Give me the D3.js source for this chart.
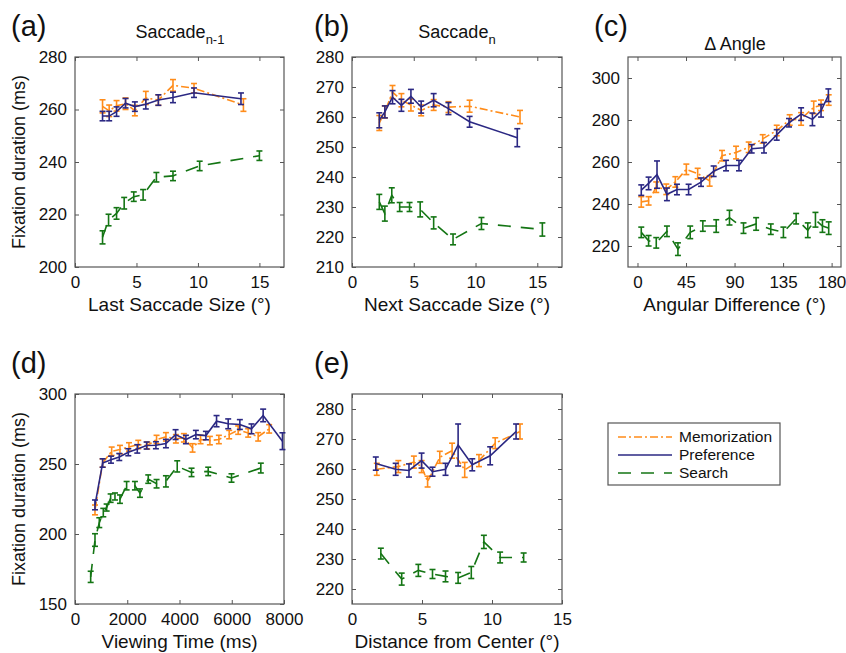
<!DOCTYPE html>
<html><head><meta charset="utf-8">
<script src="https://cdn.jsdelivr.net/npm/d3@7"></script>
<style>body{margin:0;background:#fff;} svg{display:block;font-family:"Liberation Sans",Arial,sans-serif;}</style>
</head><body>
<svg id="chart" width="846" height="653"></svg>
<script>
// ---- Panel (a): Saccade n-1 ----
const aMemX = [2.24,2.78,3.38,4.11,4.87,5.76,6.78,7.97,9.68,13.7];
const aMemY = [261.2,259.5,261.4,262.2,259.6,264.4,263.6,269.2,268.1,261.7];
const aMemE = [2.5,2.2,2,2.2,2,2.5,2,2.2,1.8,2.4];
const aPrefX = [2.24,2.78,3.38,4.11,4.87,5.76,6.78,7.97,9.68,13.5];
const aPrefY = [257.5,257.5,259.2,262.4,261.1,262,263.6,264.6,266.4,264.1];
const aPrefE = [1.8,1.8,1.8,1.8,1.8,1.8,2,2,1.8,2.2];
const aSrchX = [2.24,2.73,3.38,4.0,4.78,5.54,6.62,7.97,10.14,15.0];
const aSrchY = [211.3,217.9,220.4,224.3,226.8,227.5,234.2,234.7,238.5,242.4];
const aSrchE = [2.5,2.2,2.2,2.2,1.8,2,1.8,1.8,1.8,1.8];
// ---- Panel (b): Saccade n ----
const bMemX = [2.21,2.66,3.28,4.0,4.77,5.6,6.61,7.81,9.52,13.6];
const bMemY = [258,261.7,268.3,265.6,264,262.2,264,263.3,263.6,260];
const bMemE = [2.5,2,2.2,2.2,2,1.8,1.8,1.8,2,2.2];
const bPrefX = [2.21,2.66,3.28,4.0,4.77,5.6,6.61,7.81,9.52,13.38];
const bPrefY = [258.9,261.7,266.6,263.9,266.9,263.3,265.6,262.8,258.4,253.1];
const bPrefE = [2.5,2,2.2,2,2.3,2,2.2,2,1.8,3];
const bSrchX = [2.21,2.66,3.22,3.86,4.66,5.52,6.61,8.18,10.48,15.41];
const bSrchY = [231.7,227.8,233.9,230,230,229.2,224.7,219.2,224.5,222.5];
const bSrchE = [2.5,2.5,2.5,1.5,1.5,2.5,2,1.8,2,2.2];
// ---- Panel (c): Delta Angle ----
const cMemX = [3.5,10.3,17.4,26.7,35.1,45.3,55.8,66.9,78.4,91.4,103.1,116.1,129.1,141.1,151.7,163.4,170.2,177.3];
const cMemY = [241,241.5,248,247,250.5,256.5,254.5,251,263,264.5,267,271,275,280,280.5,286,287,289.5];
const cMemE = [2.5,2,2.5,2.5,2.5,2.5,2.5,2.5,2.5,3,2.5,2,2.5,2.5,3,3,2.5,2.5];
const cPrefX = [3.5,10.3,18.1,27.3,36.6,47.4,58.9,70.6,82.1,94.1,105.9,117.3,129.1,140.5,151.7,162.2,170.2,177];
const cPrefY = [246.6,249.8,254,244.6,246.9,246.9,250.4,255.6,258.3,258.3,266.3,266.8,272.9,278.7,282.8,280.3,284.4,291.8];
const cPrefE = [2.5,3,6.5,3,2.5,2.5,2,2.5,2.5,2.5,2,2.5,2.5,2,3,3,3,3];
const cSrchX = [3.5,10.3,17.4,27.3,37.5,48.9,60.6,73,85.3,98.3,110,123.6,135.3,147.1,157.9,165,171.5,177.3];
const cSrchY = [226.5,222.5,221.5,227,218.5,226.5,229.5,229.5,233.5,228.5,230.5,228,226.5,233,227.5,232.5,229.5,228.5];
const cSrchE = [2.5,2.5,2.5,2.5,3,3,2.5,3,3.5,2.5,3,2.5,2.5,2.5,3.5,3.5,3,3];
// ---- Panel (d): Viewing time ----
const dMemX = [765,1058,1404,1721,2066,2422,2766,3122,3480,3862,4168,4500,4806,5163,5507,5902,6246,6629,7011,7432];
const dMemY = [217.2,250.7,259.1,260.3,262.2,263.9,263.2,267.5,269.4,268,268.7,261.5,267.5,266.7,267.5,271,274.2,272.2,269.4,275.1];
const dMemE = [3.5,3,3,3,3,3,2.5,3,3,3,3,3,3,3,3,3,3,3,3,3];
const dPrefX = [765,1058,1377,1695,2040,2384,2741,3097,3480,3850,4245,4627,5010,5418,5864,6310,6756,7202,7941];
const dPrefY = [220.8,250.7,253.1,255,258.4,260.8,263.2,263.4,264.6,271,267.5,271,270.3,280.6,278.7,278.2,275.1,284.7,266.3];
const dPrefE = [3.5,3,2.5,2.5,2.5,3,2.5,2.5,3,3.5,3,3,3,4,3.5,3.5,3.5,4.5,6];
const dSrchX = [600,765,930,1083,1211,1364,1530,1721,1976,2294,2486,2804,3122,3480,3913,4461,5099,5991,7113];
const dSrchY = [169.4,195.7,208.1,215.3,218.9,225.6,226.8,224.9,234.5,234.5,229.2,239.2,235.9,237.6,248.3,244,244.7,240,247.1];
const dSrchE = [4,4.5,3.5,3,2.5,3,2.5,3,3,3,3,3,3,4,4,3,3,3,3.5];
// ---- Panel (e): Distance from center ----
const eMemX = [1.77,3.31,4.42,4.97,5.40,6.27,7.15,8.05,9.07,10.23,12.0];
const eMemY = [259.9,260.8,262.3,260.8,255.8,263.9,266.1,259.7,262.8,268.6,272.5];
const eMemE = [2,2,2,2,1.8,2,2.5,2.5,2,1.8,2.5];
const ePrefX = [1.70,3.12,4.07,4.97,5.75,6.68,7.58,8.59,9.87,11.72];
const ePrefY = [261.8,259.9,259.5,262.8,259.1,259.9,268,261.4,264.4,272.5];
const ePrefE = [2.2,2,2.2,2.5,1.5,2,7,2,3,2.5];
const eSrchX = [2.06,3.55,4.74,5.75,6.68,7.58,8.52,9.42,10.58,12.26];
const eSrchY = [231.8,223.3,226.2,225,224.2,223.7,225.5,235.7,230.5,230.5];
const eSrchE = [1.8,2,2,1.5,1.8,1.8,2,2.2,1.8,1.5];

// ---- tick labels ----
const aXTicks = [0,5,10,15], aYTicks = [200,220,240,260,280];
const bXTicks = [0,5,10,15], bYTicks = [210,220,230,240,250,260,270,280];
const cXTicks = [0,45,90,135,180], cYTicks = [220,240,260,280,300];
const dXTicks = [0,2000,4000,6000,8000], dYTicks = [150,200,250,300];
const eXTicks = [0,5,10,15], eYTicks = [220,230,240,250,260,270,280];

const seriesNames = ["Memorization","Preference","Search"];
const colors = {Memorization:"#ff8c1a", Preference:"#2b2883", Search:"#147514"};
const dashes = {Memorization:"8,3,2,3", Preference:null, Search:"13,10"};

const svg = d3.select("#chart");
const FONT = "Liberation Sans, Arial, sans-serif";

function zip(xs, ys, es){ return xs.map((x,i)=>({x:x, y:ys[i], e:es[i]})); }

function panel(cfg){
  const x = d3.scaleLinear().domain(cfg.xd).range(cfg.xr);
  const y = d3.scaleLinear().domain(cfg.yd).range(cfg.yr);
  const g = svg.append("g");
  const [x0,x1] = cfg.xr, [y1,y0] = cfg.yr;
  const tl = 4;
  g.append("g").attr("transform",`translate(0,${y1})`)
    .call(d3.axisBottom(x).tickValues(cfg.xt).tickSizeInner(-tl).tickSizeOuter(0).tickPadding(9).tickFormat(d3.format("d")))
    .call(s=>{s.select(".domain").remove(); s.selectAll("text").attr("font-size",17).attr("font-family",FONT).attr("fill","#111");});
  g.append("g").attr("transform",`translate(0,${y0})`)
    .call(d3.axisTop(x).tickValues(cfg.xt).tickSizeInner(-tl).tickSizeOuter(0).tickFormat(""))
    .call(s=>s.select(".domain").remove());
  g.append("g").attr("transform",`translate(${x0},0)`)
    .call(d3.axisLeft(y).tickValues(cfg.yt).tickSizeInner(-tl).tickSizeOuter(0).tickPadding(8).tickFormat(d3.format("d")))
    .call(s=>{s.select(".domain").remove(); s.selectAll("text").attr("font-size",17).attr("font-family",FONT).attr("fill","#111");});
  g.append("g").attr("transform",`translate(${x1},0)`)
    .call(d3.axisRight(y).tickValues(cfg.yt).tickSizeInner(-tl).tickSizeOuter(0).tickFormat(""))
    .call(s=>s.select(".domain").remove());
  g.selectAll(".tick line").attr("stroke","#555");
  g.append("rect").attr("x",x0).attr("y",y0).attr("width",x1-x0).attr("height",y1-y0)
    .attr("fill","none").attr("stroke","#555").attr("stroke-width",1.2);

  const line = d3.line().x(d=>x(d.x)).y(d=>y(d.y));
  const order = ["Search","Memorization","Preference"];
  order.forEach(name=>{
    const data = cfg.series[name];
    const col = colors[name];
    g.append("path").datum(data).attr("d",line).attr("fill","none")
      .attr("stroke",col).attr("stroke-width",1.6)
      .attr("stroke-dasharray",dashes[name]);
    const eb = g.append("g").attr("stroke",col).attr("stroke-width",1.6).attr("fill","none");
    data.forEach(d=>{
      const px = x(d.x), ya = y(d.y+d.e), yb = y(d.y-d.e);
      eb.append("line").attr("x1",px).attr("x2",px).attr("y1",ya).attr("y2",yb);
      eb.append("line").attr("x1",px-3).attr("x2",px+3).attr("y1",ya).attr("y2",ya);
      eb.append("line").attr("x1",px-3).attr("x2",px+3).attr("y1",yb).attr("y2",yb);
    });
  });
  svg.append("text").attr("x",(x0+x1)/2).attr("y",y1+44).attr("text-anchor","middle")
    .attr("font-size",19).attr("font-family",FONT).attr("fill","#111").text(cfg.xlabel);
  svg.append("text").attr("x",cfg.letterX).attr("y",y0-21).attr("font-size",29)
    .attr("font-family",FONT).attr("fill","#111").text(cfg.letter);
  return {x,y};
}

panel({xd:[0,17], yd:[200,280], xr:[75,284], yr:[267,57], xt:aXTicks, yt:aYTicks,
  xlabel:"Last Saccade Size (°)", letter:"(a)", letterX:11,
  series:{Memorization:zip(aMemX,aMemY,aMemE), Preference:zip(aPrefX,aPrefY,aPrefE), Search:zip(aSrchX,aSrchY,aSrchE)}});
panel({xd:[0,17], yd:[210,280], xr:[352,562], yr:[267,57], xt:bXTicks, yt:bYTicks,
  xlabel:"Next Saccade Size (°)", letter:"(b)", letterX:314,
  series:{Memorization:zip(bMemX,bMemY,bMemE), Preference:zip(bPrefX,bPrefY,bPrefE), Search:zip(bSrchX,bSrchY,bSrchE)}});
panel({xd:[-8.8,188.7], yd:[210,310], xr:[628,841], yr:[267,57], xt:cXTicks, yt:cYTicks,
  xlabel:"Angular Difference (°)", letter:"(c)", letterX:594,
  series:{Memorization:zip(cMemX,cMemY,cMemE), Preference:zip(cPrefX,cPrefY,cPrefE), Search:zip(cSrchX,cSrchY,cSrchE)}});
panel({xd:[0,8000], yd:[150,300], xr:[75,284], yr:[604,394], xt:dXTicks, yt:dYTicks,
  xlabel:"Viewing Time (ms)", letter:"(d)", letterX:11,
  series:{Memorization:zip(dMemX,dMemY,dMemE), Preference:zip(dPrefX,dPrefY,dPrefE), Search:zip(dSrchX,dSrchY,dSrchE)}});
panel({xd:[0,15], yd:[215,285], xr:[352,562], yr:[604,394], xt:eXTicks, yt:eYTicks,
  xlabel:"Distance from Center (°)", letter:"(e)", letterX:314,
  series:{Memorization:zip(eMemX,eMemY,eMemE), Preference:zip(ePrefX,ePrefY,ePrefE), Search:zip(eSrchX,eSrchY,eSrchE)}});

function title(cx, yb, main, sub){
  const t = svg.append("text").attr("x",cx).attr("y",yb).attr("text-anchor","middle")
    .attr("font-size",18).attr("font-family",FONT).attr("fill","#111");
  t.append("tspan").text(main);
  if(sub) t.append("tspan").attr("font-size",13).attr("dy",6).text(sub);
}
title(180, 38, "Saccade", "n-1");
title(457, 38, "Saccade", "n");
title(735, 50, "\u0394\u2009Angle", null);

[[162,"Fixation duration (ms)"],[499,"Fixation duration (ms)"]].forEach(([cy,t])=>{
  svg.append("text").attr("transform",`translate(25,${cy}) rotate(-90)`).attr("text-anchor","middle")
    .attr("font-size",18).attr("font-family",FONT).attr("fill","#111").text(t);
});

const lg = svg.append("g").attr("transform","translate(608,423)");
lg.append("rect").attr("width",172).attr("height",62).attr("fill","#fff").attr("stroke","#555").attr("stroke-width",1.2);
seriesNames.forEach((n,i)=>{
  const yy = 14 + i*18;
  lg.append("line").attr("x1",10).attr("x2",64).attr("y1",yy).attr("y2",yy)
    .attr("stroke",colors[n]).attr("stroke-width",1.6).attr("stroke-dasharray",dashes[n]);
  lg.append("text").attr("x",71).attr("y",yy+5).attr("font-size",15.5).attr("font-family",FONT)
    .attr("fill","#111").text(n);
});
</script>
</body></html>
